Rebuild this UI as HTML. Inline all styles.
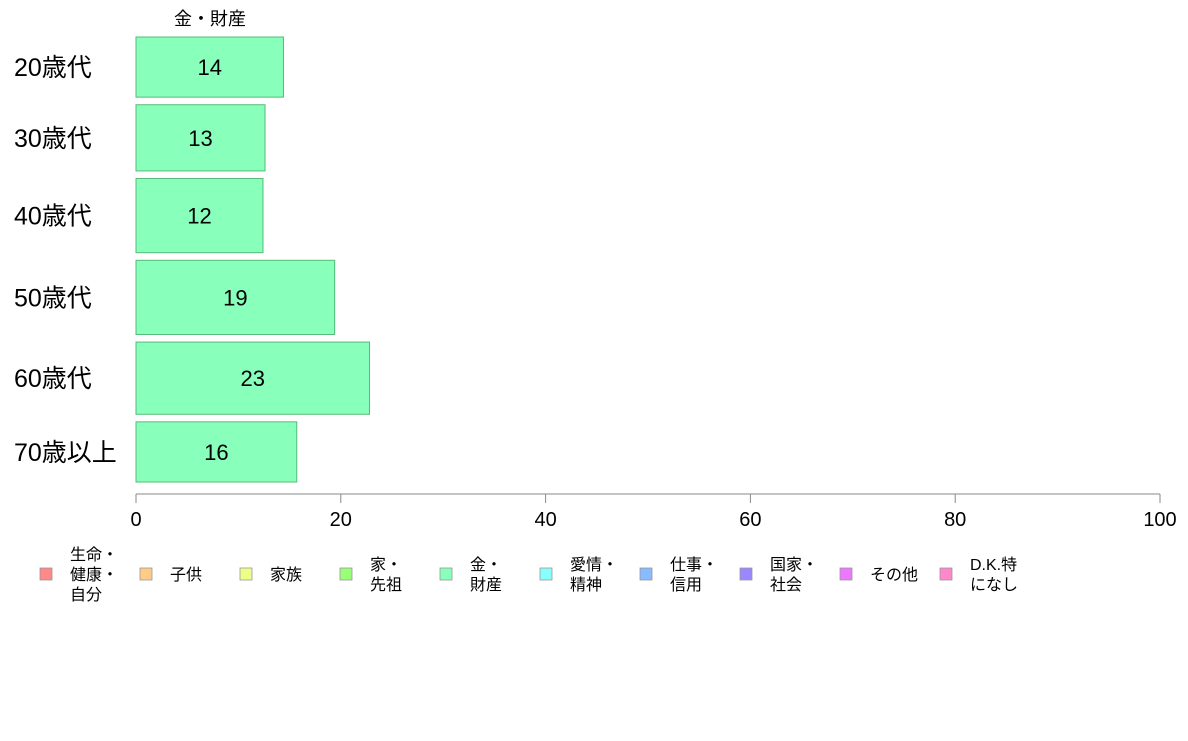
<!DOCTYPE html>
<html><head><meta charset="utf-8"><style>
body{margin:0;background:#fff;font-family:"Liberation Sans","Noto Sans CJK JP",sans-serif;}
svg text{font-family:"Liberation Sans","Noto Sans CJK JP",sans-serif;}
</style></head><body>
<svg id="chart" width="1188" height="736" viewBox="0 0 1188 736" xmlns="http://www.w3.org/2000/svg"></svg>
<script>
const categories = ["20歳代","30歳代","40歳代","50歳代","60歳代","70歳以上"];
const values = [14.4, 12.6, 12.4, 19.4, 22.8, 15.7];
const sampleSizes = [60, 66, 74, 74, 72, 60];
const xTicks = [0, 20, 40, 60, 80, 100];
const legendLabels = [["生命・","健康・","自分"],["子供"],["家族"],["家・","先祖"],["金・","財産"],["愛情・","精神"],["仕事・","信用"],["国家・","社会"],["その他"],["D.K.特","になし"]];
const legendColors = ["#ff8888","#ffcc88","#eeff88","#99ff77","#88ffbb","#88ffff","#88bbff","#9988ff","#ee77ff","#ff88cc"];

const svg = document.getElementById('chart');
const NS = "http://www.w3.org/2000/svg";
const x0 = 136, x1 = 1160, yTop = 37, yBot = 482, gap = 7.6;
function xScale(v){ return x0 + (x1 - x0) * v / 100; }
const totalN = sampleSizes.reduce((a,b)=>a+b,0);
const avail = (yBot - yTop) - gap * (categories.length - 1);
function mk(tag, attrs){ const e = document.createElementNS(NS, tag); for (const k in attrs) e.setAttribute(k, attrs[k]); svg.appendChild(e); return e; }

const header = mk('text', {x: 210, y: 25, 'font-size': 18, 'text-anchor': 'middle', fill: '#000'});


header.textContent = "金・財産";

let y = yTop;
categories.forEach((c, i) => {
  const h = avail * sampleSizes[i] / totalN;
  const r = mk('rect', {x: x0, y: y, width: xScale(values[i]) - x0, height: h, fill: '#88ffbb', stroke: '#55bb77', 'stroke-width': 1});
  
  
  const t = mk('text', {x: (x0 + xScale(values[i])) / 2, y: y + h / 2 + 8, 'font-size': 22, 'text-anchor': 'middle', fill: '#000'});
  
  
  t.textContent = Math.round(values[i]);
  const l = mk('text', {x: 14, y: y + h / 2 + 9, 'font-size': 25, fill: '#000'});
  
  
  l.textContent = c;
  y += h + gap;
});

const ax = mk('line', {x1: x0, x2: x1, y1: 494, y2: 494, stroke: '#888', 'stroke-width': 1});


xTicks.forEach(v => {
  const tk = mk('line', {x1: xScale(v), x2: xScale(v), y1: 494, y2: 503, stroke: '#888', 'stroke-width': 1});
  
  
  const tl = mk('text', {x: xScale(v), y: 526, 'font-size': 20, 'text-anchor': 'middle', fill: '#000'});
  
  
  tl.textContent = v;
});

legendLabels.forEach((lines, i) => {
  const lx = 40 + i * 100;
  const sw = mk('rect', {x: lx, y: 568, width: 12, height: 12, fill: legendColors[i], stroke: '#999', 'stroke-width': 0.8});
  
  
  const startY = 574 + 6 - (lines.length - 1) * 10;
  lines.forEach((ln, j) => {
    const t = mk('text', {x: lx + 30, y: startY + j * 20, 'font-size': 16, fill: '#000'});
    
    
    t.textContent = ln;
  });
});
</script>
</body></html>
